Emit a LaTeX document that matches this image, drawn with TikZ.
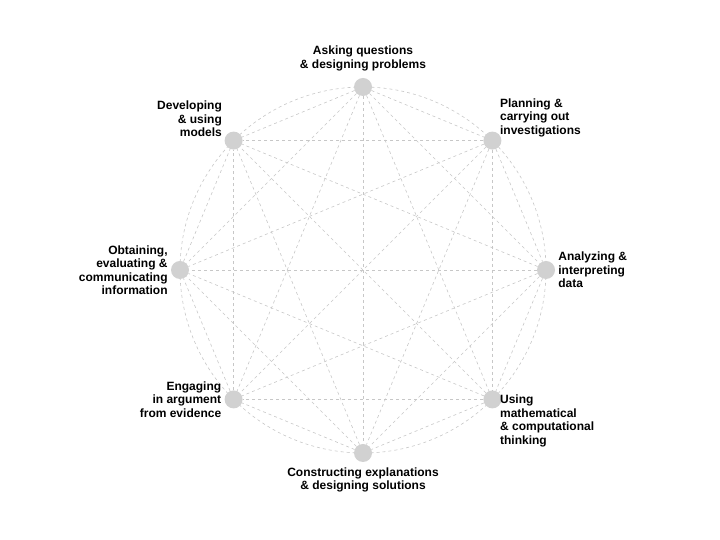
\documentclass[tikz,border=0pt]{standalone}
\usepackage{fontspec}
\setmainfont{Liberation Sans}
\usetikzlibrary{positioning,calc}
\tikzset{
  practice/.style={circle, fill=black!18, minimum size=18pt, inner sep=0pt},
  link/.style={draw=black!22, dashed, line width=0.6pt},
  caption/.style={font=\fontsize{12}{13.5}\selectfont\bfseries, inner sep=1pt}
}
\begin{document}
\begin{tikzpicture}[x=1pt,y=1pt]
    \useasboundingbox (0,0) rectangle (720,540);
    % Outer circle
    \draw[link] (363,270) circle (183);
    % Practice dots
    \foreach \i/\a in {1/90,2/45,3/0,4/-45,5/-90,6/-135,7/180,8/135}
      \node[practice] (p\i) at ($(363,270)+(\a:183)$) {};
    % Every pair of practices
    \foreach \i in {1,...,7}{
      \pgfmathtruncatemacro{\nxt}{\i+1}
      \foreach \j in {\nxt,...,8}
        \draw[link] (p\i) -- (p\j);
    }
    % Labels
    \node[caption, above=6pt of p1, align=center] (t1) {Asking questions\\\& designing problems};
    \node[caption, above right=-4pt and 0pt of p2, align=left] (t2) {Planning \&\\carrying out\\investigations};
    \node[caption, right=2pt of p3, align=left] (t3) {Analyzing \&\\ interpreting\\data};
    \node[caption, below right=-12pt and 0pt of p4, align=left] (t4) {Using\\mathematical\\\& computational\\thinking};
    \node[caption, below=4pt of p5, align=center] (t5) {Constructing explanations\\\& designing solutions};
    \node[caption, left=2pt of p6, align=right] (t6) {Engaging\\in argument\\from evidence};
    \node[caption, left=2pt of p7, align=right] (t7) {Obtaining,\\evaluating \&\\communicating\\information};
    \node[caption, above left=-4pt and 4pt of p8, align=right] (t8) {Developing\\\& using\\models};
\end{tikzpicture}
\end{document}
